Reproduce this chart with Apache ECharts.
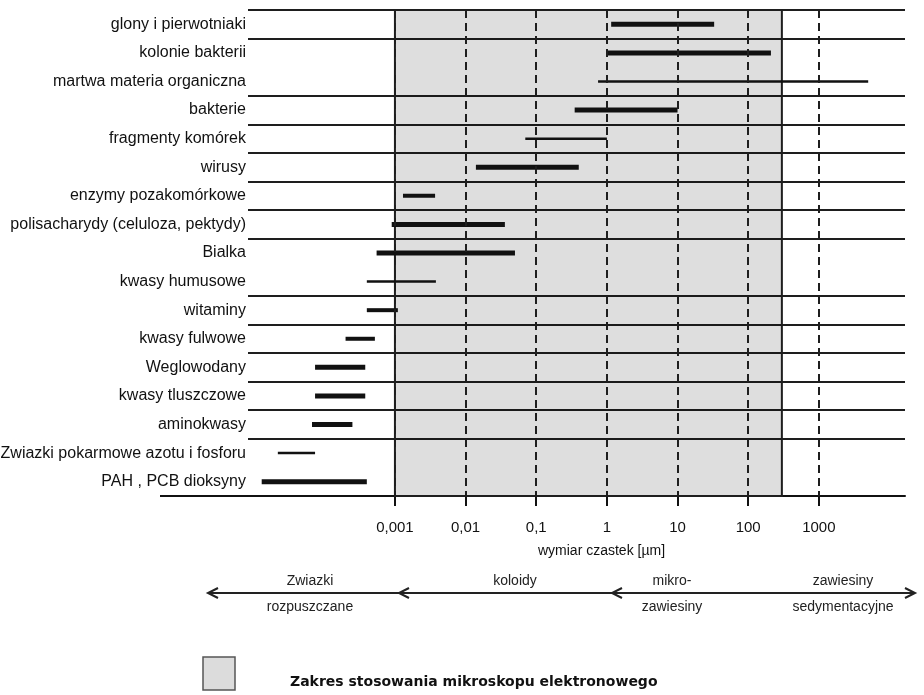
<!DOCTYPE html>
<html>
<head>
<meta charset="utf-8">
<script src="https://cdn.jsdelivr.net/npm/echarts@6/dist/echarts.min.js"></script>
<style>
html, body { margin: 0; padding: 0; background: #fff; }
#chart { width: 924px; height: 695px; }
</style>
</head>
<body>
<div id="chart"></div>
<script>
// kategorie (od gory)
var categories = [
    'glony i pierwotniaki',
    'kolonie bakterii',
    'martwa materia organiczna',
    'bakterie',
    'fragmenty komórek',
    'wirusy',
    'enzymy pozakomórkowe',
    'polisacharydy (celuloza, pektydy)',
    'Bialka',
    'kwasy humusowe',
    'witaminy',
    'kwasy fulwowe',
    'Weglowodany',
    'kwasy tluszczowe',
    'aminokwasy',
    'Zwiazki pokarmowe azotu i fosforu',
    'PAH , PCB dioksyny'
];
// zakres wymiarow [um]
var sizeFrom = [1.15, 1.0, 0.75, 0.35, 0.07, 0.014, 0.0013, 0.0009, 0.00055, 0.0004, 0.0004, 0.0002, 0.000074, 0.000074, 0.000067, 0.000022, 0.000013];
var sizeTo   = [33, 210, 5000, 10, 1, 0.4, 0.0037, 0.036, 0.05, 0.0038, 0.0011, 0.00052, 0.00038, 0.00038, 0.00025, 0.000074, 0.0004];

var tickValues = [0.001, 0.01, 0.1, 1, 10, 100, 1000];
var tickLabels = ['0,001', '0,01', '0,1', '1', '10', '100', '1000'];

// zakres mikroskopu elektronowego
var emRange = [0.001, 300];

var zoneTop = ['Zwiazki', 'koloidy', 'mikro-', 'zawiesiny'];
var zoneBottom = ['rozpuszczane', '', 'zawiesiny', 'sedymentacyjne'];

// --- style ---
var thinRows = ['martwa materia organiczna', 'fragmenty komórek', 'kwasy humusowe', 'Zwiazki pokarmowe azotu i fosforu'];
var midRows = ['enzymy pozakomórkowe', 'witaminy', 'kwasy fulwowe'];
// linie miedzy wierszami (brak linii: kolonie/martwa, Bialka/humusowe, Zwiazki/PAH)
var rowLineColors = [];
for (var i = 0; i <= categories.length; i++) {
    var gap = (i === 2 || i === 9 || i === 16);
    rowLineColors.push(gap ? 'rgba(0,0,0,0)' : '#1e1e1e');
}
var FONT = "'Liberation Sans', Arial, sans-serif";

var lg = function (v) { return Math.log(v) / Math.LN10; };
var tickLogs = tickValues.map(lg);

// [od, wiersz, do]
var barData = categories.map(function (c, i) {
    return [lg(sizeFrom[i]), i, lg(sizeTo[i])];
});

var chart = echarts.init(document.getElementById('chart'));

var option = {
    animation: false,
    backgroundColor: '#fff',
    grid: { left: 248, right: 19, top: 10, bottom: 199, containLabel: false, outerBoundsMode: 'none' },
    xAxis: {
        type: 'value',
        min: -5.08,
        max: 4.22,
        axisLine: { show: true, lineStyle: { color: '#111', width: 2 } },
        axisTick: { show: true, customValues: tickLogs, length: 10, lineStyle: { color: '#111', width: 2 } },
        axisLabel: {
            customValues: tickLogs,
            margin: 24,
            fontSize: 15,
            fontFamily: FONT,
            color: '#111',
            formatter: function (v) {
                var k = Math.round(v) + 3;
                return tickLabels[k] || '';
            }
        },
        splitLine: { show: false },
        name: 'wymiar czastek [µm]',
        nameLocation: 'middle',
        nameGap: 48,
        nameTextStyle: { fontSize: 14, fontFamily: FONT, color: '#111', padding: [0, 0, 0, 50] }
    },
    yAxis: {
        type: 'category',
        data: categories,
        inverse: true,
        axisLine: { show: false },
        axisTick: { show: false },
        axisLabel: { interval: 0, margin: 2, fontSize: 16, fontFamily: FONT, color: '#111' },
        splitLine: { show: true, interval: 0, lineStyle: { color: rowLineColors, width: 2 } }
    },
    series: [{
        type: 'custom',
        data: barData,
        encode: { x: 0, y: 1 },
        renderItem: function (params, api) {
            var row = api.value(1);
            var name = categories[row];
            var p1 = api.coord([api.value(0), row]);
            var p2 = api.coord([api.value(2), row]);
            var w = thinRows.indexOf(name) >= 0 ? 2.5 : (midRows.indexOf(name) >= 0 ? 4 : 5);
            return {
                type: 'line',
                shape: { x1: p1[0], y1: p1[1], x2: p2[0], y2: p2[1] },
                style: { stroke: '#111', lineWidth: w }
            };
        },
        markArea: {
            silent: true,
            itemStyle: { color: 'rgba(0,0,0,0.13)', borderColor: '#1e1e1e', borderWidth: 2 },
            data: [[{ xAxis: lg(emRange[0]) }, { xAxis: lg(emRange[1]) }]]
        }
    }, {
        type: 'line',
        data: [],
        markLine: {
            silent: true,
            symbol: ['none', 'none'],
            label: { show: false },
            lineStyle: { color: '#1e1e1e', width: 2, type: [8, 5] },
            data: tickLogs.map(function (t) { return { xAxis: t }; })
        }
    }],
    graphic: []
};

// strzalki zakresow
var arrowY = 593;
var zoneX = [310, 515, 672, 843];
var heads = [[208, -1], [399, -1], [612, -1], [915, 1]];
var g = [];
g.push({ type: 'line', shape: { x1: 160, y1: 496, x2: 248, y2: 496 }, style: { stroke: '#111', lineWidth: 2 } });
g.push({ type: 'line', shape: { x1: 208, y1: arrowY, x2: 915, y2: arrowY }, style: { stroke: '#222', lineWidth: 2 } });
heads.forEach(function (h) {
    var x = h[0], d = h[1];
    g.push({
        type: 'polyline',
        shape: { points: [[x - d * 10, arrowY - 5], [x, arrowY], [x - d * 10, arrowY + 5]] },
        style: { stroke: '#222', lineWidth: 2, fill: null }
    });
});
zoneTop.forEach(function (t, i) {
    g.push({ type: 'text', x: zoneX[i], y: arrowY - 12, style: { text: t, fontSize: 14, fontFamily: FONT, fill: '#222', align: 'center', verticalAlign: 'middle' } });
    if (zoneBottom[i]) {
        g.push({ type: 'text', x: zoneX[i], y: arrowY + 14, style: { text: zoneBottom[i], fontSize: 14, fontFamily: FONT, fill: '#222', align: 'center', verticalAlign: 'middle' } });
    }
});
// legenda
g.push({ type: 'rect', shape: { x: 203, y: 657, width: 32, height: 33 }, style: { fill: '#dcdcdc', stroke: '#555', lineWidth: 1.5 } });
g.push({ type: 'text', x: 290, y: 682, style: { text: 'Zakres stosowania mikroskopu elektronowego', fontSize: 14, fontWeight: 'bold', fontFamily: "'DejaVu Sans', sans-serif", fill: '#111', verticalAlign: 'middle' } });
option.graphic = g;

chart.setOption(option);
</script>
</body>
</html>
